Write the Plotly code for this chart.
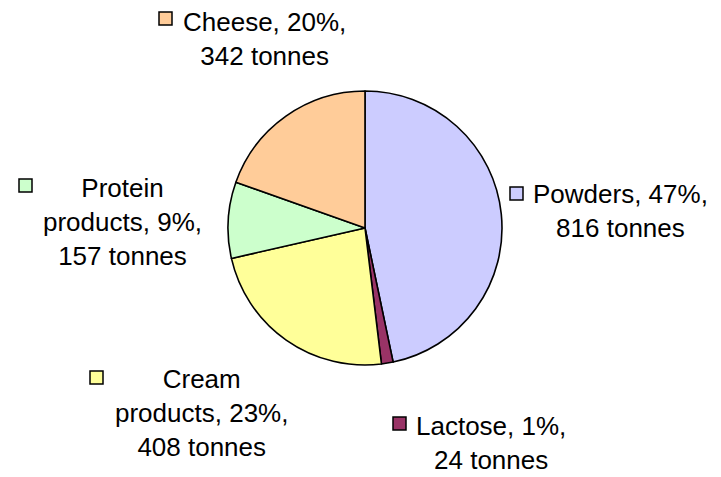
import plotly.graph_objects as go

# Dairy product output by category (tonnes)
categories = ["Powders", "Lactose", "Cream<br>products", "Protein<br>products", "Cheese"]
tonnes = [816, 24, 408, 157, 342]
colors = ["#CCCCFF", "#993366", "#FFFF99", "#CCFFCC", "#FFCC99"]

# Label block layout: (text centre x, centre y, key square left x, key square top y) in pixels
label_layout = [
    (620, 211, 510, 187),
    (491, 443, 393, 417),
    (201, 413, 90, 371),
    (122, 222, 19, 179),
    (264, 39, 159, 12),
]

W, H = 721, 477
total = sum(tonnes)

# Pie geometry in pixels
cx, cy, r = 365, 228, 137

fig = go.Figure(
    go.Pie(
        labels=categories,
        values=tonnes,
        sort=False,
        direction="clockwise",
        rotation=0,
        marker=dict(colors=colors, line=dict(color="black", width=1.6)),
        textinfo="none",
        hoverinfo="label+value+percent",
        domain=dict(x=[(cx - r) / W, (cx + r) / W], y=[(H - cy - r) / H, (H - cy + r) / H]),
        showlegend=False,
    )
)

annotations = []
shapes = []
key = 13
for name, val, col, (tx, ty, kx, ky) in zip(categories, tonnes, colors, label_layout):
    pct = round(val / total * 100)
    annotations.append(
        dict(
            x=tx / W,
            y=1 - ty / H,
            xref="paper",
            yref="paper",
            text=f"{name}, {pct}%,<br>{val} tonnes",
            showarrow=False,
            xanchor="center",
            yanchor="middle",
            align="center",
            font=dict(family="Liberation Sans, Arial, sans-serif", size=26, color="black"),
        )
    )
    shapes.append(
        dict(
            type="rect",
            xref="paper",
            yref="paper",
            x0=kx / W,
            x1=(kx + key) / W,
            y0=1 - (ky + key) / H,
            y1=1 - ky / H,
            fillcolor=col,
            line=dict(color="black", width=1.5),
        )
    )

fig.update_layout(
    width=W,
    height=H,
    margin=dict(l=0, r=0, t=0, b=0),
    paper_bgcolor="white",
    plot_bgcolor="white",
    annotations=annotations,
    shapes=shapes,
)

fig.write_html("out.html")
